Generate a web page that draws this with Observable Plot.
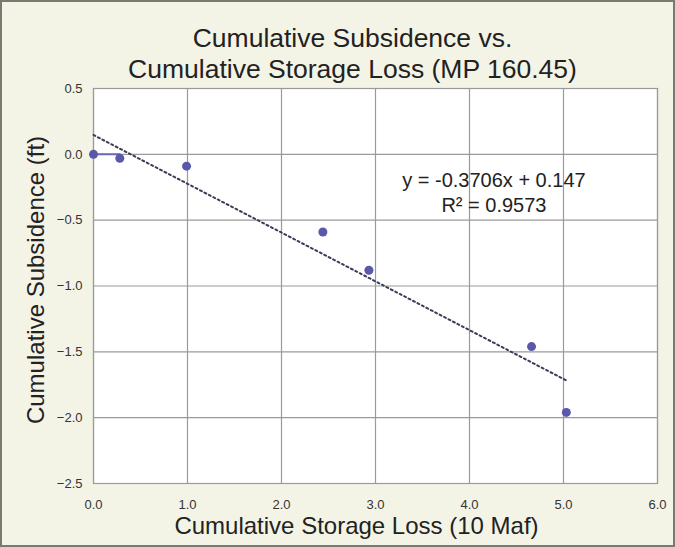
<!DOCTYPE html>
<html><head><meta charset="utf-8">
<script src="https://cdn.jsdelivr.net/npm/d3@7"></script>
<script src="https://cdn.jsdelivr.net/npm/@observablehq/plot@0.6"></script>
<style>
body{margin:0;background:#fff}
#chart svg{display:block;outline:2px solid #7a7a72;outline-offset:-2px}
</style>
</head><body><div id="chart"></div>
<script>
const storageLoss = [0.0, 0.28, 0.99, 2.44, 2.93, 4.66, 5.03];
const subsidence = [0.0, -0.03, -0.09, -0.59, -0.88, -1.46, -1.96];
const trendSlope = -0.3706;
const trendIntercept = 0.147;
const xTicks = [0, 1, 2, 3, 4, 5, 6];
const yTicks = [0.5, 0, -0.5, -1, -1.5, -2, -2.5];
const titleLines = ["Cumulative Subsidence vs.", "Cumulative Storage Loss (MP 160.45)"];
const xTitle = "Cumulative Storage Loss (10 Maf)";
const yTitle = "Cumulative Subsidence (ft)";
const eqLines = ["y = -0.3706x + 0.147", "R\u00b2 = 0.9573"];

const points = storageLoss.map((x, i) => ({x, y: subsidence[i]}));
const xMin = d3.min(storageLoss), xMax = d3.max(storageLoss);
const trend = [xMin, xMax].map(x => ({x, y: trendSlope * x + trendIntercept}));
const firstSeg = [{x: storageLoss[0], y: subsidence[0]}, {x: storageLoss[1], y: subsidence[0]}];

const font = "'Liberation Sans', Arial, sans-serif";
const chart = Plot.plot({
  width: 675,
  height: 547,
  marginLeft: 93,
  marginRight: 18,
  marginTop: 88,
  marginBottom: 64,
  style: {background: "#f4f4e6", fontFamily: font, color: "#333"},
  x: {domain: [0, 6], ticks: xTicks, tickFormat: d3.format(".1f")},
  y: {domain: [-2.5, 0.5], ticks: yTicks, tickFormat: d3.format(".1f")},
  marks: [
    Plot.frame({fill: "white", stroke: null}),
    Plot.gridX(xTicks, {stroke: "#9a9a9a", strokeOpacity: 1, strokeWidth: 1.2}),
    Plot.gridY(yTicks, {stroke: "#9a9a9a", strokeOpacity: 1, strokeWidth: 1.2}),
    Plot.frame({stroke: "#9a9a9a", strokeWidth: 1.2}),
    Plot.axisX(xTicks, {tickSize: 0, tickPadding: 16, fontSize: 13, label: null, fill: "#333", tickFormat: d3.format(".1f")}),
    Plot.axisY(yTicks, {tickSize: 0, tickPadding: 11, fontSize: 13, label: null, fill: "#333", tickFormat: d3.format(".1f")}),
    Plot.line(firstSeg, {x: "x", y: "y", stroke: "#6a68b8", strokeWidth: 2}),
    Plot.line(trend, {x: "x", y: "y", stroke: "#3c3c5a", strokeWidth: 2, strokeDasharray: "2,3"}),
    Plot.dot(points, {x: "x", y: "y", r: 4.5, fill: "#5a58aa", stroke: null}),
    Plot.text([eqLines.join("\n")], {x: 4.26, y: -0.285, fontSize: 20, fill: "#222", lineHeight: 1.25, textAnchor: "middle"}),
    Plot.text([titleLines[0]], {frameAnchor: "top", dy: -60, dx: -23, fontSize: 26.5, fill: "#222"}),
    Plot.text([titleLines[1]], {frameAnchor: "top", dy: -29, dx: -23, fontSize: 26.5, fill: "#222"}),
    Plot.text([xTitle], {frameAnchor: "bottom", dy: 50, dx: -19, fontSize: 24, fill: "#222"}),
    Plot.text([yTitle], {frameAnchor: "left", textAnchor: "middle", dx: -57, dy: -6, rotate: -90, fontSize: 24, fill: "#222"})
  ]
});
document.getElementById("chart").append(chart);
</script>
</body></html>
